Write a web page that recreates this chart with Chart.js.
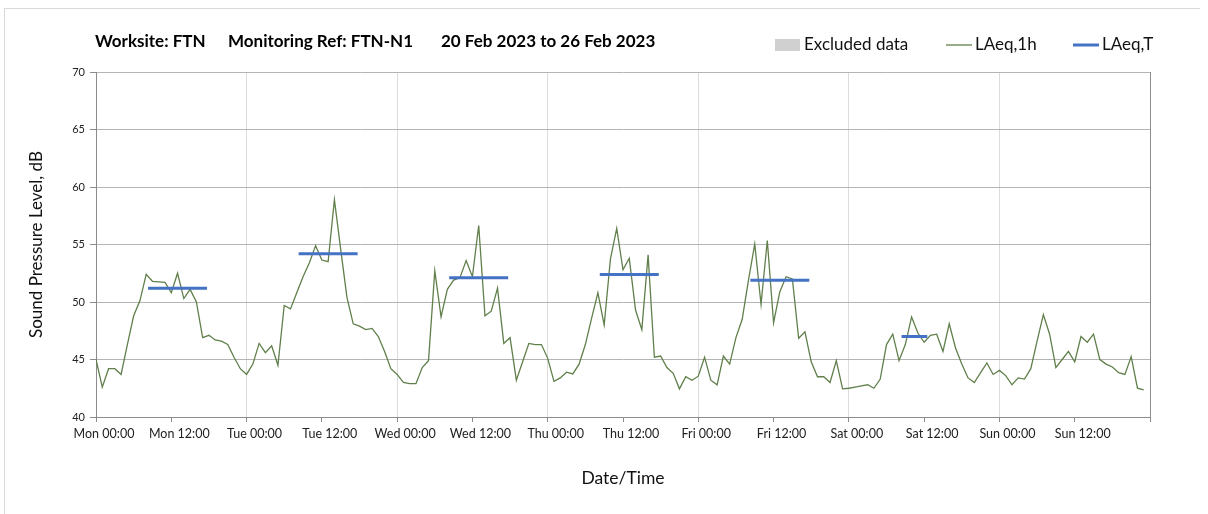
<!DOCTYPE html>
<html>
<head>
<meta charset="utf-8">
<title>FTN-N1 noise monitoring</title>
<script src="https://cdn.jsdelivr.net/npm/chart.js@4.4.0/dist/chart.umd.min.js"></script>
<style>
  html, body { margin: 0; padding: 0; background: #fff; overflow: hidden; }
  #frame { position: absolute; left: 4px; top: 8px; width: 1195px; height: 540px;
           border-top: 1px solid #d9d9d9; border-left: 1px solid #d9d9d9; }
  #noiseChart { position: absolute; left: 0; top: 0; }
</style>
</head>
<body>
<div id="frame"></div>
<canvas id="noiseChart" width="1208" height="514"></canvas>
<script>
// Header text
const titleParts = ['Worksite: FTN', 'Monitoring Ref: FTN-N1', '20 Feb 2023 to 26 Feb 2023'];

// x axis: hours since Mon 00:00, ticks every 12 h
const xTickLabels = ['Mon 00:00', 'Mon 12:00', 'Tue 00:00', 'Tue 12:00', 'Wed 00:00', 'Wed 12:00',
  'Thu 00:00', 'Thu 12:00', 'Fri 00:00', 'Fri 12:00', 'Sat 00:00', 'Sat 12:00',
  'Sun 00:00', 'Sun 12:00', ''];

// hourly LAeq,1h values, Mon 00:00 .. Sun 23:00
const laeqMon = [45.0, 42.6, 44.2, 44.2, 43.7, 46.3, 48.8, 50.1, 52.4, 51.8, 51.75, 51.7,
  50.8, 52.5, 50.3, 51.1, 50.0, 46.9, 47.1, 46.7, 46.6, 46.3, 45.2, 44.2];
const laeqTue = [43.7, 44.6, 46.4, 45.6, 46.2, 44.5, 49.7, 49.4, 50.8, 52.2, 53.4, 54.9,
  53.65, 53.5, 58.9, 54.6, 50.4, 48.1, 47.9, 47.6, 47.7, 47.0, 45.7, 44.2];
const laeqWed = [43.7, 43.0, 42.9, 42.9, 44.3, 44.9, 52.7, 48.7, 51.1, 51.9, 52.1, 53.6,
  52.2, 56.65, 48.8, 49.2, 51.2, 46.4, 46.9, 43.2, 44.8, 46.4, 46.3, 46.3];
const laeqThu = [45.1, 43.1, 43.4, 43.9, 43.75, 44.6, 46.3, 48.6, 50.8, 48.0, 53.75, 56.4,
  52.8, 53.8, 49.3, 47.6, 54.1, 45.2, 45.3, 44.3, 43.8, 42.45, 43.5, 43.2];
const laeqFri = [43.55, 45.2, 43.2, 42.8, 45.3, 44.6, 46.9, 48.5, 51.9, 55.05, 49.8, 55.35,
  48.2, 50.9, 52.2, 52.0, 46.85, 47.4, 44.8, 43.5, 43.5, 43.0, 44.9, 42.45];
const laeqSat = [42.5, 42.6, 42.7, 42.8, 42.5, 43.3, 46.3, 47.2, 44.9, 46.3, 48.7, 47.3,
  46.5, 47.1, 47.2, 45.7, 48.1, 46.0, 44.6, 43.4, 43.0, 43.85, 44.7, 43.7];
const laeqSun = [44.05, 43.6, 42.8, 43.4, 43.3, 44.2, 46.6, 48.9, 47.2, 44.3, 45.0, 45.7,
  44.8, 47.0, 46.5, 47.2, 45.0, 44.6, 44.35, 43.85, 43.7, 45.25, 42.5, 42.35];

// LAeq,T periods (hours since Mon 00:00) and levels
const periodStart = [8.3, 32.3, 56.3, 80.3, 104.3, 128.4];
const periodEnd = [17.7, 41.7, 65.7, 89.7, 113.7, 132.5];
const periodLevel = [51.2, 54.2, 52.1, 52.4, 51.9, 47.0];

const hourly = [].concat(laeqMon, laeqTue, laeqWed, laeqThu, laeqFri, laeqSat, laeqSun);
const hourlyPoints = hourly.map((v, i) => ({ x: i, y: v }));

const periodPoints = [];
periodStart.forEach((s, i) => {
  periodPoints.push({ x: s, y: periodLevel[i] });
  periodPoints.push({ x: periodEnd[i], y: periodLevel[i] });
  periodPoints.push({ x: periodEnd[i] + 0.1, y: null });
});

const axisGrey = '#8c8c8c';
const FONT = 'Lato, "Open Sans", sans-serif';

// title and legend drawn on one line above the plot
const headerPlugin = {
  id: 'header',
  afterDraw(chart) {
    const ctx = chart.ctx;
    ctx.save();
    ctx.textBaseline = 'middle';
    ctx.fillStyle = '#000';
    ctx.font = 'bold 17px ' + FONT;
    const titleX = [95, 228, 441];
    titleParts.forEach((t, i) => ctx.fillText(t, titleX[i], 42));

    const legendX = [775, 946, 1073];
    ctx.font = '17px ' + FONT;
    chart.data.datasets.forEach((ds, i) => {
      const x = legendX[i], y = 45;
      if (ds.legendBox) {
        ctx.fillStyle = ds.backgroundColor;
        ctx.fillRect(x, y - 6, 25, 12);
      } else {
        ctx.strokeStyle = ds.borderColor;
        ctx.lineWidth = ds.borderWidth;
        ctx.beginPath();
        ctx.moveTo(x, y);
        ctx.lineTo(x + 26, y);
        ctx.stroke();
      }
      ctx.fillStyle = '#111';
      ctx.fillText(ds.label, x + 29, y);
    });
    ctx.restore();
  }
};

const ctx = document.getElementById('noiseChart').getContext('2d');
new Chart(ctx, {
  type: 'line',
  data: {
    datasets: [
      {
        label: 'Excluded data',
        legendBox: true,
        data: [],
        backgroundColor: '#d0d0d0',
        borderColor: '#d0d0d0',
        order: 2
      },
      {
        label: 'LAeq,1h',
        data: hourlyPoints,
        borderColor: '#607f4b',
        borderWidth: 1.3,
        pointRadius: 0,
        tension: 0,
        order: 1
      },
      {
        label: 'LAeq,T',
        data: periodPoints,
        borderColor: '#4472c4',
        borderWidth: 3,
        pointRadius: 0,
        spanGaps: false,
        order: 0
      }
    ]
  },
  options: {
    responsive: false,
    animation: false,
    layout: { padding: { top: 72, right: 58, bottom: 0, left: 0 } },
    plugins: {
      legend: { display: false },
      tooltip: { enabled: false }
    },
    scales: {
      x: {
        type: 'linear',
        min: 0,
        max: 168,
        afterFit: s => { s.height = 97; },
        border: { color: axisGrey },
        grid: {
          color: c => c.tick.value === 168 ? axisGrey : (c.tick.value % 24 === 0 ? '#dcdcdc' : 'rgba(0,0,0,0)'),
          tickColor: axisGrey,
          tickLength: 5
        },
        ticks: {
          stepSize: 12,
          autoSkip: false,
          maxRotation: 0,
          labelOffset: 8,
          padding: 4,
          color: '#222',
          font: { family: FONT, size: 12.5 },
          callback: (v, i) => xTickLabels[i]
        },
        title: {
          display: true,
          text: 'Date/Time',
          color: '#111',
          font: { family: FONT, size: 17.5 },
          padding: { top: 0, bottom: 25 }
        }
      },
      y: {
        min: 40,
        max: 70,
        afterFit: s => { s.width = 96; },
        border: { color: axisGrey },
        grid: { color: '#b4b4b4', tickColor: axisGrey, tickLength: 6 },
        ticks: {
          stepSize: 5,
          padding: 5,
          color: '#222',
          font: { family: FONT, size: 11 }
        },
        title: {
          display: true,
          text: 'Sound Pressure Level, dB',
          color: '#111',
          font: { family: FONT, size: 17 },
          padding: { top: 26, bottom: 0 }
        }
      }
    }
  },
  plugins: [headerPlugin]
});
</script>
</body>
</html>
